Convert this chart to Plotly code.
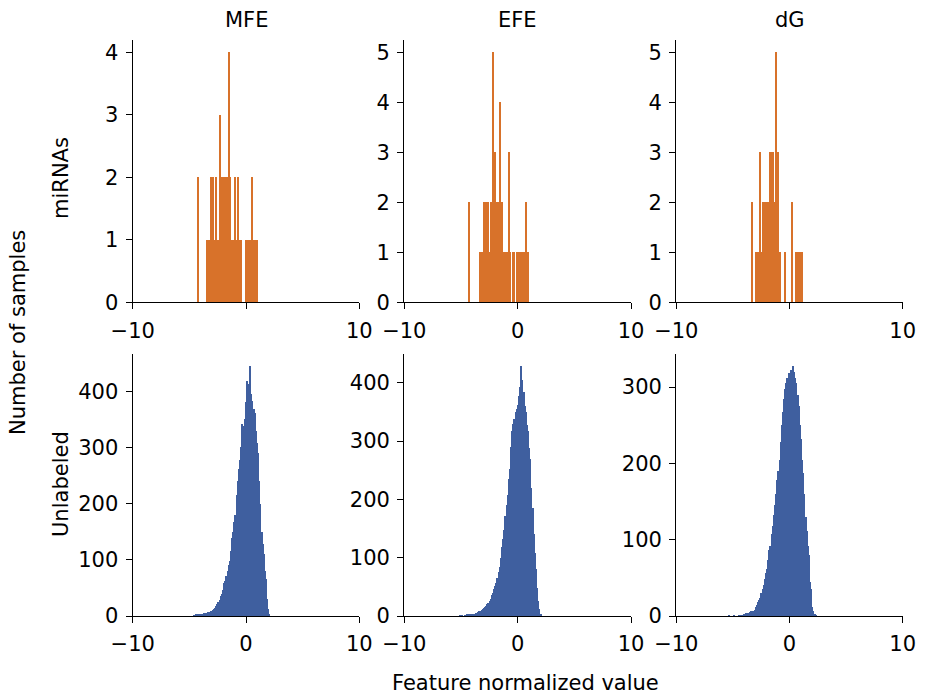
import plotly.graph_objects as go

BIN_WIDTH = 0.1

# ---- miRNA histograms: left bin edges and counts of the non-empty bins ----
mfe_mirna_edges = [-4.3, -3.5, -3.4, -3.3, -3.2, -3.1, -3.0, -2.9, -2.8, -2.7, -2.6, -2.5,
                   -2.4, -2.3, -2.2, -2.1, -2.0, -1.9, -1.8, -1.7, -1.6, -1.5, -1.4, -1.3,
                   -1.2, -1.1, -1.0, -0.9, -0.8, -0.7, -0.6, -0.5, -0.1, 0.0, 0.1, 0.2,
                   0.3, 0.5, 0.6, 0.7, 0.8, 0.9]
mfe_mirna_counts = [2, 1, 1, 1, 2, 1, 2, 1, 1, 2, 1, 1,
                    3, 2, 2, 2, 2, 2, 2, 2, 4, 2, 1, 1,
                    1, 1, 2, 1, 2, 1, 1, 1, 1, 1, 1, 1,
                    1, 2, 1, 1, 1, 1]

efe_mirna_edges = [-4.3, -3.3, -3.2, -3.1, -3.0, -2.9, -2.8, -2.7, -2.6, -2.5, -2.4, -2.3,
                   -2.2, -2.1, -2.0, -1.9, -1.8, -1.7, -1.6, -1.5, -1.4, -1.3, -1.2, -1.1,
                   -1.0, -0.8, -0.7, -0.4, -0.3, -0.1, 0.0, 0.1, 0.2, 0.3, 0.4, 0.5,
                   0.7, 0.8, 0.9]
efe_mirna_counts = [2, 1, 1, 1, 2, 2, 2, 2, 2, 1, 2, 2,
                    5, 2, 3, 2, 2, 2, 4, 2, 2, 1, 1, 1,
                    1, 3, 1, 1, 1, 1, 1, 1, 1, 1, 1, 1,
                    2, 1, 1]

dg_mirna_edges = [-3.3, -3.0, -2.9, -2.8, -2.7, -2.6, -2.5, -2.4, -2.3, -2.2, -2.1, -2.0,
                  -1.9, -1.8, -1.7, -1.6, -1.5, -1.4, -1.3, -1.2, -1.1, -1.0, -0.9, -0.4,
                  0.2, 0.6, 0.7, 0.8, 0.9, 1.0, 1.1]
dg_mirna_counts = [2, 1, 1, 1, 1, 3, 1, 2, 2, 2, 2, 2,
                   2, 2, 3, 3, 3, 2, 2, 5, 2, 3, 1, 1,
                   2, 1, 1, 1, 1, 1, 1]

# ---- Unlabeled histograms: first left edge, then consecutive bin counts ----
mfe_unlab_start = -4.7
mfe_unlab_counts = [1, 0, 2, 1, 3, 2, 3, 4, 3, 5, 4, 6, 5, 7, 8, 9, 8, 11, 13, 15,
                    18, 22, 25, 29, 35, 40, 46, 58, 62, 72, 80, 90, 98, 115, 138, 150,
                    168, 180, 215, 240, 262, 278, 300, 342, 338, 350, 380, 418, 412, 385,
                    444, 395, 382, 368, 362, 330, 308, 290, 240, 200, 150, 128, 110, 80,
                    65, 30, 12, 4]

efe_unlab_start = -5.1
efe_unlab_counts = [1, 0, 1, 0, 1, 1, 2, 1, 2, 3, 2, 3, 4, 3, 5, 6, 7, 8, 9, 10,
                    12, 14, 16, 18, 20, 22, 25, 30, 36, 40, 46, 52, 56, 66, 76, 84, 100,
                    118, 132, 148, 172, 190, 208, 235, 252, 290, 318, 330, 338, 350, 355,
                    362, 378, 392, 428, 405, 384, 360, 350, 328, 318, 288, 270, 220, 185,
                    140, 108, 80, 48, 25, 12, 4]

dg_unlab_start = -5.4
dg_unlab_counts = [1, 0, 0, 0, 0, 1, 0, 0, 0, 1, 0, 1, 0, 1, 2, 4, 3, 4, 3, 5,
                   6, 5, 7, 8, 12, 14, 18, 21, 24, 30, 36, 40, 48, 56, 62, 74, 86, 92,
                   108, 118, 132, 145, 160, 178, 190, 205, 228, 250, 268, 285, 298, 305,
                   312, 318, 316, 322, 318, 327, 320, 312, 305, 290, 275, 250, 232, 205,
                   187, 160, 130, 112, 92, 80, 45, 35, 12, 6, 3, 1]

features = ["MFE", "EFE", "dG"]
row_names = ["miRNAs", "Unlabeled"]
x_ticks = [-10, 0, 10]
x_tick_text = ["\u221210", "0", "10"]
# the upper MFE and dG panels keep the tick at 0 but print no label there
top_x_tick_text = [["\u221210", "", "10"], x_tick_text, ["\u221210", "", "10"]]
top_y_ticks = [[0, 1, 2, 3, 4], [0, 1, 2, 3, 4, 5], [0, 1, 2, 3, 4, 5]]
bottom_y_ticks = [[0, 100, 200, 300, 400], [0, 100, 200, 300, 400], [0, 100, 200, 300]]

ORANGE = "#d8722a"
BLUE = "#3f5f9f"
FONT = "DejaVu Sans"
FS = 21


def consecutive_edges(start, counts):
    return [round(start + i * BIN_WIDTH, 3) for i in range(len(counts))]


top_data = [(mfe_mirna_edges, mfe_mirna_counts),
            (efe_mirna_edges, efe_mirna_counts),
            (dg_mirna_edges, dg_mirna_counts)]
bottom_data = [(consecutive_edges(mfe_unlab_start, mfe_unlab_counts), mfe_unlab_counts),
               (consecutive_edges(efe_unlab_start, efe_unlab_counts), efe_unlab_counts),
               (consecutive_edges(dg_unlab_start, dg_unlab_counts), dg_unlab_counts)]

W, H = 925, 700
col_px = [(132.7, 359.3), (404.3, 631.0), (676.3, 902.7)]
row_px = [(40.0, 302.3), (354.0, 616.0)]
row_label_y = [178, 484]

fig = go.Figure()


def add_hist(idx, edges, counts, color):
    centers = [e + BIN_WIDTH / 2 for e in edges]
    fig.add_trace(go.Bar(
        x=centers, y=counts, width=BIN_WIDTH,
        marker=dict(color=color, line=dict(width=0)),
        xaxis="x" + ("" if idx == 1 else str(idx)),
        yaxis="y" + ("" if idx == 1 else str(idx)),
        showlegend=False, hoverinfo="x+y",
    ))


axis_common = dict(
    showline=True, linecolor="black", linewidth=1.3,
    ticks="outside", ticklen=6, tickwidth=1.3, tickcolor="black",
    showgrid=False, zeroline=False, automargin=False,
    tickfont=dict(family=FONT, size=FS, color="black"),
)

layout = {}
idx = 0
for r in range(2):
    for c in range(3):
        idx += 1
        if r == 0:
            edges, counts = top_data[c]
            add_hist(idx, edges, counts, ORANGE)
            yt = top_y_ticks[c]
            xtt = top_x_tick_text[c]
        else:
            edges, counts = bottom_data[c]
            add_hist(idx, edges, counts, BLUE)
            yt = bottom_y_ticks[c]
            xtt = x_tick_text
        ymax = max(counts) * 1.05
        x0, x1 = col_px[c]
        y0, y1 = row_px[r]
        suffix = "" if idx == 1 else str(idx)
        layout["xaxis" + suffix] = dict(
            axis_common, domain=[x0 / W, x1 / W], range=[-10, 10],
            tickvals=x_ticks, ticktext=xtt,
            anchor="y" + suffix, ticklabelstandoff=3,
        )
        layout["yaxis" + suffix] = dict(
            axis_common, domain=[1 - y1 / H, 1 - y0 / H], range=[0, ymax],
            tickvals=yt, anchor="x" + suffix, ticklabelstandoff=3,
        )

annotations = []
for c, name in enumerate(features):
    x0, x1 = col_px[c]
    annotations.append(dict(
        text=name, x=(x0 + x1) / 2 / W, y=1 - 20 / H, xref="paper", yref="paper",
        showarrow=False, font=dict(family=FONT, size=FS, color="black"),
        xanchor="center", yanchor="middle"))

for r, name in enumerate(row_names):
    annotations.append(dict(
        text=name, x=61 / W, y=1 - row_label_y[r] / H, xref="paper", yref="paper",
        showarrow=False, textangle=-90, font=dict(family=FONT, size=FS, color="black"),
        xanchor="center", yanchor="middle"))

annotations.append(dict(
    text="Number of samples", x=18 / W, y=1 - 333 / H, xref="paper", yref="paper",
    showarrow=False, textangle=-90, font=dict(family=FONT, size=FS, color="black"),
    xanchor="center", yanchor="middle"))
annotations.append(dict(
    text="Feature normalized value", x=525 / W, y=1 - 683 / H, xref="paper", yref="paper",
    showarrow=False, font=dict(family=FONT, size=FS, color="black"),
    xanchor="center", yanchor="middle"))

fig.update_layout(
    width=W, height=H,
    margin=dict(l=0, r=0, t=0, b=0, autoexpand=False),
    paper_bgcolor="white", plot_bgcolor="white",
    bargap=0, barmode="overlay",
    annotations=annotations,
    **layout,
)

fig.write_html("out.html")
